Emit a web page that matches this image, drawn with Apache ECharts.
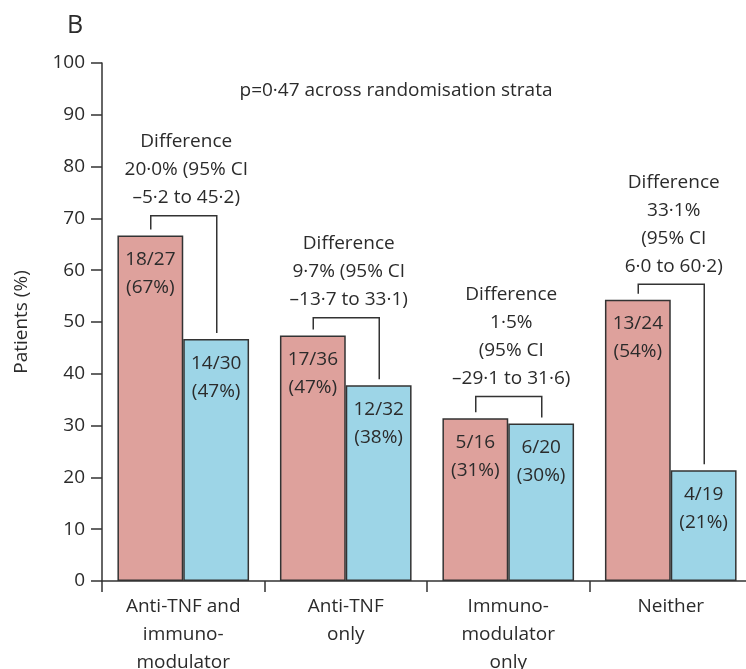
<!DOCTYPE html>
<html>
<head>
<meta charset="utf-8">
<script src="https://cdn.jsdelivr.net/npm/echarts@6/dist/echarts.min.js"></script>
<style>
  html, body { margin: 0; padding: 0; background: #fff; }
  #main { width: 746px; height: 669px; }
</style>
</head>
<body>
<div id="main"></div>
<script>
// categories and values
var categories = ['Anti-TNF and\nimmuno-\nmodulator', 'Anti-TNF\nonly', 'Immuno-\nmodulator\nonly', 'Neither'];
var groupA = [66.7, 47.4, 31.4, 54.3];
var groupB = [46.7, 37.8, 30.4, 21.4];
var labelsA = ['18/27\n(67%)', '17/36\n(47%)', '5/16\n(31%)', '13/24\n(54%)'];
var labelsB = ['14/30\n(47%)', '12/32\n(38%)', '6/20\n(30%)', '4/19\n(21%)'];
var bracketTop = [70.5, 50.8, 35.6, 57.3];
var diffTexts = [
  'Difference\n20·0% (95% CI\n–5·2 to 45·2)',
  'Difference\n9·7% (95% CI\n–13·7 to 33·1)',
  'Difference\n1·5%\n(95% CI\n–29·1 to 31·6)',
  'Difference\n33·1%\n(95% CI\n6·0 to 60·2)'
];
var yTicks = [0, 100, 10];

var FONT = '"Open Sans", sans-serif';
var TXT = '#2b2b2b';
var FS = 19;

var chart = echarts.init(document.getElementById('main'), null, { renderer: 'canvas' });

var bracketData = [];
for (var i = 0; i < categories.length; i++) {
  bracketData.push([i, bracketTop[i], groupA[i], groupB[i]]);
}

// bracket between the two bars of a group, with the difference text on top
function renderBracket(params, api) {
  var idx = api.value(0);
  var top = api.coord([idx, api.value(1)]);
  var a = api.coord([idx, api.value(2)]);
  var b = api.coord([idx, api.value(3)]);
  var band = api.size([1, 0])[0];
  var off = band * 0.2;
  var xl = top[0] - off, xr = top[0] + off + 1;
  return {
    type: 'group',
    children: [{
      type: 'polyline',
      shape: { points: [[xl, a[1] - 6], [xl, top[1]], [xr, top[1]], [xr, b[1] - 6]] },
      style: { stroke: '#333', fill: null, lineWidth: 1.5 }
    }, {
      type: 'text',
      x: top[0] + 3,
      y: top[1] - 4,
      style: {
        text: diffTexts[params.dataIndex],
        fill: TXT,
        font: FS + 'px ' + FONT,
        lineHeight: 28,
        align: 'center',
        verticalAlign: 'bottom'
      }
    }]
  };
}

var option = {
  backgroundColor: '#fff',
  animation: false,
  grid: { left: 102, top: 63, width: 650, height: 518, outerBoundsMode: 'none', containLabel: false },
  graphic: [{
    type: 'text', x: 67, y: 26,
    style: { text: 'B', fill: TXT, font: '500 25px ' + FONT, verticalAlign: 'middle' }
  }, {
    type: 'text', x: 396, y: 91,
    style: { text: 'p=0·47 across randomisation strata', fill: TXT, font: FS + 'px ' + FONT, align: 'center', verticalAlign: 'middle' }
  }],
  xAxis: {
    type: 'category',
    data: categories,
    axisLine: { lineStyle: { color: '#333', width: 1.5 } },
    axisTick: { show: true, length: 11, lineStyle: { color: '#333', width: 1.5 } },
    axisLabel: { color: TXT, fontSize: FS, fontFamily: FONT, lineHeight: 28, margin: 12, interval: 0 }
  },
  yAxis: {
    type: 'value',
    min: yTicks[0], max: yTicks[1], interval: yTicks[2],
    name: 'Patients (%)',
    nameLocation: 'middle',
    nameGap: 71,
    nameRotate: 90,
    nameTextStyle: { color: TXT, fontSize: 19, fontFamily: FONT },
    axisLine: { show: true, lineStyle: { color: '#333', width: 1.5 } },
    axisTick: { show: true, length: 11, lineStyle: { color: '#333', width: 1.5 } },
    axisLabel: { color: TXT, fontSize: FS, fontFamily: FONT, margin: 17 },
    splitLine: { show: false }
  },
  series: [{
    type: 'bar',
    data: groupA,
    barGap: '0%',
    barCategoryGap: '19%',
    itemStyle: { color: '#dea19c', borderColor: '#333', borderWidth: 1.5 },
    label: {
      show: true, position: 'insideTop', distance: 10,
      formatter: function (p) { return labelsA[p.dataIndex]; },
      color: TXT, fontSize: FS, fontFamily: FONT, lineHeight: 28
    }
  }, {
    type: 'bar',
    data: groupB,
    itemStyle: { color: '#9dd5e7', borderColor: '#333', borderWidth: 1.5 },
    label: {
      show: true, position: 'insideTop', distance: 10,
      formatter: function (p) { return labelsB[p.dataIndex]; },
      color: TXT, fontSize: FS, fontFamily: FONT, lineHeight: 28
    }
  }, {
    type: 'custom',
    renderItem: renderBracket,
    data: bracketData,
    z: 5
  }]
};

chart.setOption(option);
</script>
</body>
</html>
